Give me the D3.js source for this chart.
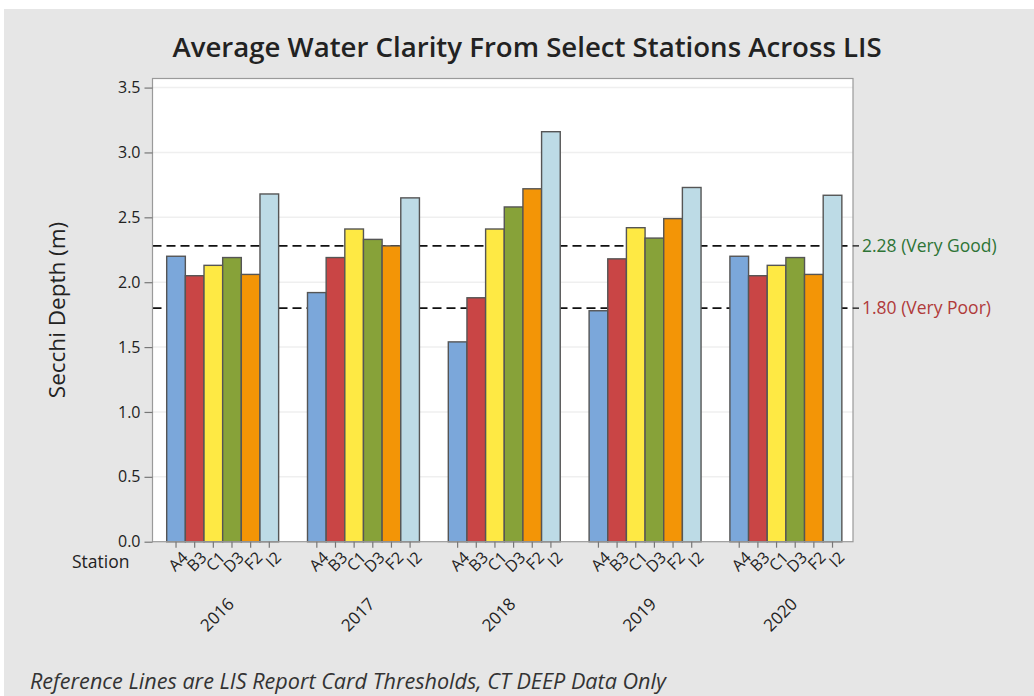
<!DOCTYPE html>
<html><head><meta charset="utf-8">
<script src="https://cdn.jsdelivr.net/npm/d3@7"></script>
<style>body{margin:0;background:#fff}svg{display:block}</style>
</head><body>
<svg id="c" width="1034" height="696"></svg>
<script>
const years = ["2016","2017","2018","2019","2020"];
const stations = ["A4","B3","C1","D3","F2","I2"];
const v2016 = [2.20,2.05,2.13,2.19,2.06,2.68];
const v2017 = [1.92,2.19,2.41,2.33,2.28,2.65];
const v2018 = [1.54,1.88,2.41,2.58,2.72,3.16];
const v2019 = [1.78,2.18,2.42,2.34,2.49,2.73];
const v2020 = [2.20,2.05,2.13,2.19,2.06,2.67];
const seriesByYear = [v2016,v2017,v2018,v2019,v2020];
const yTicks = [0,0.5,1.0,1.5,2.0,2.5,3.0,3.5];
const refValues = [2.28,1.80];
const refLabels = ["2.28 (Very Good)","1.80 (Very Poor)"];
const stationColors = ["#7ba7da","#c94545","#fee944","#87a239","#f39506","#bddbe6"];

const svg = d3.select("#c");
const font = "'Open Sans','Noto Sans',sans-serif";
svg.append("rect").attr("x",4).attr("y",9).attr("width",1030).attr("height",687).attr("fill","#e6e6e6");

const L=152.5, R=853, T=78.5, B=541.7;
const y = d3.scaleLinear().domain([0,3.57]).range([B,T]);
const x0 = d3.scaleBand().domain(years).range([L,R]).paddingInner(0.205).paddingOuter(0.09).align(0.56);
const x1 = d3.scaleBand().domain(stations).range([0,x0.bandwidth()]);
const color = d3.scaleOrdinal().domain(stations).range(stationColors);

svg.append("rect").attr("x",L).attr("y",T).attr("width",R-L).attr("height",B-T).attr("fill","#fff");
// grid
svg.append("g").selectAll("line").data(yTicks.slice(1)).join("line")
  .attr("x1",L).attr("x2",R).attr("y1",d=>y(d)).attr("y2",d=>y(d))
  .attr("stroke","#efefef").attr("stroke-width",1.5);
// reference lines
svg.append("g").selectAll("line").data(refValues).join("line")
  .attr("x1",L).attr("x2",R).attr("y1",d=>y(d)).attr("y2",d=>y(d))
  .attr("stroke","#111").attr("stroke-width",1.6).attr("stroke-dasharray","9,5");
// bars
const data = [];
years.forEach((yr,i)=>stations.forEach((s,j)=>data.push({yr,s,v:seriesByYear[i][j]})));
svg.append("g").selectAll("rect").data(data).join("rect")
  .attr("x",d=>x0(d.yr)+x1(d.s)).attr("width",x1.bandwidth())
  .attr("y",d=>y(d.v)).attr("height",d=>B-y(d.v))
  .attr("fill",d=>color(d.s)).attr("stroke","#555").attr("stroke-width",1.4);
// border
svg.append("rect").attr("x",L).attr("y",T).attr("width",R-L).attr("height",B-T)
  .attr("fill","none").attr("stroke","#9a9a9a").attr("stroke-width",1.2);

// y axis
const ya = svg.append("g").attr("transform",`translate(${L},0)`)
  .call(d3.axisLeft(y).tickValues(yTicks).tickFormat(d3.format(".1f")).tickSize(8).tickSizeOuter(0));
ya.select(".domain").remove();
ya.selectAll("line").attr("stroke","#777").attr("stroke-width",1.2);
ya.selectAll("text").attr("font-family",font).attr("font-size",16).attr("fill","#222").attr("dx",-1);

// right ref ticks and labels
const rg = svg.append("g");
rg.selectAll("line").data(refValues).join("line")
  .attr("x1",R).attr("x2",R+6).attr("y1",d=>y(d)).attr("y2",d=>y(d)).attr("stroke","#222").attr("stroke-width",1.4);
rg.selectAll("text").data(refValues).join("text")
  .attr("x",R+9).attr("y",d=>y(d)).attr("dy","0.35em")
  .attr("font-family",font).attr("font-size",17.5)
  .attr("fill",(d,i)=>i===0?"#2e7436":"#b03a3a").text((d,i)=>refLabels[i]);

// x ticks
const xt = svg.append("g");
const tickData = data.map(d=>({s:d.s, cx:x0(d.yr)+x1(d.s)+x1.bandwidth()/2}));
xt.selectAll("line").data(tickData).join("line")
  .attr("x1",d=>d.cx).attr("x2",d=>d.cx).attr("y1",B).attr("y2",B+6).attr("stroke","#777").attr("stroke-width",1.2);
xt.selectAll("text").data(tickData).join("text")
  .attr("transform",d=>`translate(${d.cx+5},${B+9}) rotate(-45)`)
  .attr("text-anchor","end").attr("dy","0.7em")
  .attr("font-family",font).attr("font-size",16).attr("fill","#222").text(d=>d.s);
// year labels
svg.append("g").selectAll("text").data(years).join("text")
  .attr("transform",d=>`translate(${x0(d)+x0.bandwidth()/2+4},${B+55}) rotate(-45)`)
  .attr("text-anchor","end").attr("dy","0.7em")
  .attr("font-family",font).attr("font-size",17).attr("fill","#222").text(d=>d);
svg.append("text").attr("x",72).attr("y",568).attr("font-family",font).attr("font-size",17.5).attr("fill","#222").text("Station");

// titles
svg.append("text").attr("x",527).attr("y",57).attr("text-anchor","middle")
  .attr("font-family",font).attr("font-weight",600).attr("font-size",27.6).attr("fill","#222")
  .text("Average Water Clarity From Select Stations Across LIS");
svg.append("text").attr("transform","translate(65,310) rotate(-90)").attr("text-anchor","middle")
  .attr("font-family",font).attr("font-size",22.5).attr("fill","#222").text("Secchi Depth (m)");
svg.append("text").attr("x",30).attr("y",689).attr("font-family",font).attr("font-style","italic")
  .attr("font-size",21.6).attr("fill","#333").text("Reference Lines are LIS Report Card Thresholds, CT DEEP Data Only");
</script>
</body></html>
